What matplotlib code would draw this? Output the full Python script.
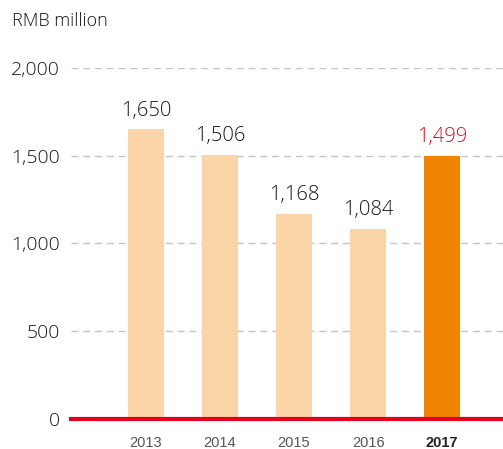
import matplotlib
matplotlib.use("Agg")
import matplotlib.pyplot as plt

years = ["2013", "2014", "2015", "2016", "2017"]
values = [1650, 1506, 1168, 1084, 1499]
value_labels = ["1,650", "1,506", "1,168", "1,084", "1,499"]
y_ticks = [0, 500, 1000, 1500, 2000]
y_tick_labels = ["0", "500", "1,000", "1,500", "2,000"]
unit_label = "RMB million"

light = "#fbd5a8"
highlight = "#f08300"
red = "#e60020"
text_dark = "#151515"

fig = plt.figure(figsize=(5.03, 4.49), dpi=100)
ax = fig.add_axes([71 / 503, 30 / 449, 1 - 71 / 503, (419 - 68) / 449])

x = list(range(len(years)))
colors = [light] * (len(years) - 1) + [highlight]
ax.bar(x, values, width=36 / 74, color=colors, zorder=2)

ax.set_xlim(-1.01, 4.82)
ax.set_ylim(0, 2000)

for y in y_ticks[1:]:
    ax.axhline(y, color="#c4c4c4", lw=1, ls=(0, (5, 3.5)), zorder=1)
ax.axhline(0, color=red, lw=3, zorder=3, clip_on=False)

for i, (v, lab) in enumerate(zip(values, value_labels)):
    c = "#d30a24" if i == len(values) - 1 else text_dark
    ax.text(i, v + 50, lab, ha="center", va="bottom", fontsize=14.5,
            color=c, family="Open Sans", fontweight="light")

ax.set_yticks(y_ticks)
ax.set_yticklabels(y_tick_labels, family="Open Sans", fontsize=14,
                   color=text_dark, fontweight="light")
ax.set_xticks(x)
ax.set_xticklabels(years, family="Liberation Sans", fontsize=10.5, color="#555555")
lbls = ax.get_xticklabels()
lbls[-1].set_fontweight("bold")
lbls[-1].set_color("#222222")
ax.tick_params(axis="both", length=0)
ax.tick_params(axis="y", pad=8)
ax.tick_params(axis="x", pad=12)

for s in ax.spines.values():
    s.set_visible(False)

fig.text(12 / 503, 1 - 21 / 449, unit_label, fontsize=13, family="Open Sans",
         color=text_dark, va="center", ha="left", fontweight="light")

fig.savefig("out.png", dpi=100)
